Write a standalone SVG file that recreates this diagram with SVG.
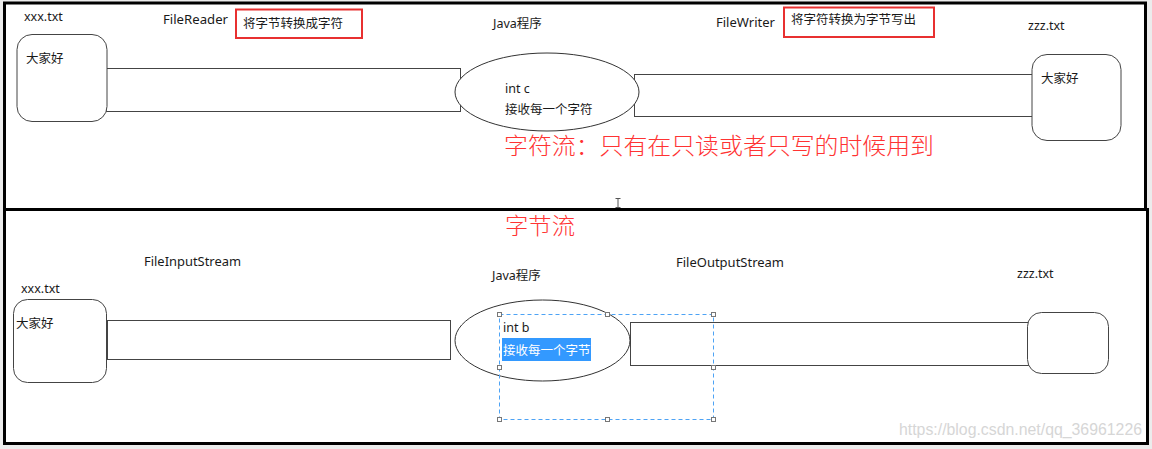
<svg xmlns="http://www.w3.org/2000/svg" width="1152" height="449" viewBox="0 0 1152 449">
<style>
.t{font-family:"Noto Sans","Noto Sans CJK SC",sans-serif;font-size:12.5px;fill:#1a1a1a}
.red{font-family:"Noto Sans CJK SC",sans-serif;fill:#f33;font-size:23px;font-weight:300}
.box{fill:#fff;stroke:#444;stroke-width:1}
.pipe{fill:#fff;stroke:#444;stroke-width:1}
.panel{fill:#fff;stroke:#000;stroke-width:3}
.redbox{fill:none;stroke:#e83030;stroke-width:2}
.handle{fill:#fff;stroke:#777;stroke-width:1}
</style>
<rect x="0" y="0" width="1152" height="449" fill="#ececec"/>
<g id="panel-char">
<rect class="panel" x="4.5" y="3" width="1141" height="206.5"/>
</g>
<g id="panel-byte">
<rect class="panel" x="4.5" y="209.5" width="1143" height="234"/>
</g>
<g id="connectors">
<rect class="pipe" x="106.5" y="68.5" width="354" height="43"/>
<rect class="pipe" x="634.5" y="74.5" width="398" height="42"/>
<rect class="pipe" x="107.5" y="320.5" width="343" height="39"/>
<rect class="pipe" x="630.5" y="322.5" width="398" height="43"/>
</g>
<g id="src-char">
<text class="t" x="24" y="21">xxx.txt</text>
<rect class="box" x="17" y="34.5" width="90" height="87" rx="15"/>
<text class="t" x="26" y="63">大家好</text>
</g>
<g id="reader-label">
<text class="t" x="163" y="24" font-size="13" textLength="65" lengthAdjust="spacingAndGlyphs">FileReader</text>
<rect class="redbox" x="236" y="9.5" width="126" height="28.5"/>
<text class="t" x="243" y="28">将字节转换成字符</text>
</g>
<g id="java-char">
<text class="t" x="493" y="28">Java程序</text>
<ellipse cx="547" cy="92" rx="92" ry="39" fill="#fff" stroke="#333" stroke-width="1"/>
<text class="t" x="505" y="93" font-size="13">int c</text>
<text class="t" x="505" y="114">接收每一个字符</text>
</g>
<g id="writer-label">
<text class="t" x="716" y="27" font-size="13" textLength="59" lengthAdjust="spacingAndGlyphs">FileWriter</text>
<rect class="redbox" x="784" y="7.5" width="150" height="29.5"/>
<text class="t" x="791" y="24">将字符转换为字节写出</text>
</g>
<g id="dst-char">
<text class="t" x="1028" y="30">zzz.txt</text>
<rect class="box" x="1032" y="54.5" width="89" height="86" rx="15"/>
<text class="t" x="1041" y="83">大家好</text>
</g>
<text class="red" x="504" y="154" textLength="430" lengthAdjust="spacingAndGlyphs">字符流：只有在只读或者只写的时候用到</text>
<path d="M615.5 198.5h5M618 198.5v9M615.5 207.5h5" fill="none" stroke="#555" stroke-width="1"/>
<text class="red" x="505" y="234" textLength="70" lengthAdjust="spacingAndGlyphs">字节流</text>
<g id="src-byte">
<text class="t" x="21" y="293">xxx.txt</text>
<rect class="box" x="13.5" y="299.5" width="93" height="83" rx="14"/>
<text class="t" x="16" y="328">大家好</text>
</g>
<text class="t" x="144" y="266" font-size="13" textLength="97" lengthAdjust="spacingAndGlyphs">FileInputStream</text>
<g id="java-byte">
<text class="t" x="492" y="280">Java程序</text>
<ellipse cx="542.5" cy="340.5" rx="87.5" ry="40.5" fill="#fff" stroke="#333" stroke-width="1"/>
<text class="t" x="503" y="332" font-size="13">int b</text>
<rect x="502" y="338" width="89" height="23" fill="#3399ff"/>
<text class="t" x="503" y="355" style="fill:#fff">接收每一个字节</text>
<rect x="499.5" y="314.5" width="214" height="105" fill="none" stroke="#4da3f5" stroke-width="1" stroke-dasharray="4,3"/>
<rect class="handle" x="497.5" y="312.5" width="4" height="4"/>
<rect class="handle" x="605.5" y="312.5" width="4" height="4"/>
<rect class="handle" x="711.5" y="312.5" width="4" height="4"/>
<rect class="handle" x="497.5" y="365.5" width="4" height="4"/>
<rect class="handle" x="711.5" y="365.5" width="4" height="4"/>
<rect class="handle" x="497.5" y="417.5" width="4" height="4"/>
<rect class="handle" x="605.5" y="417.5" width="4" height="4"/>
<rect class="handle" x="711.5" y="417.5" width="4" height="4"/>
</g>
<text class="t" x="676" y="267" font-size="13" textLength="108" lengthAdjust="spacingAndGlyphs">FileOutputStream</text>
<g id="dst-byte">
<text class="t" x="1017" y="278">zzz.txt</text>
<rect class="box" x="1027.5" y="312.5" width="81" height="61" rx="14"/>
</g>
<text x="899" y="435" font-family="Liberation Sans, sans-serif" font-size="16" fill="#d6d6d6" textLength="243" lengthAdjust="spacingAndGlyphs">https://blog.csdn.net/qq_36961226</text>
</svg>
